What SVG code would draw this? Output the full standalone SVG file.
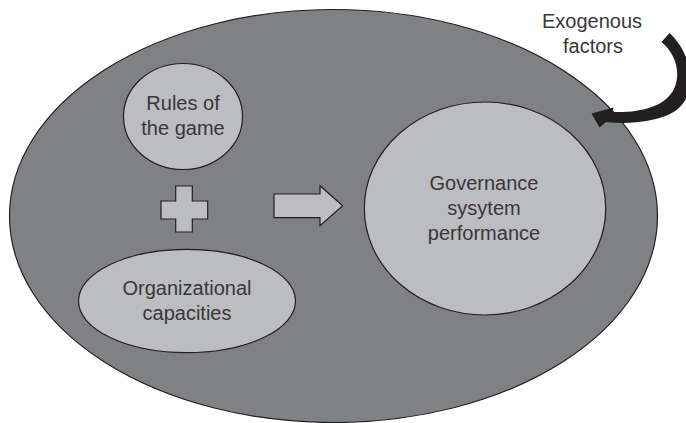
<svg xmlns="http://www.w3.org/2000/svg" width="686" height="423" viewBox="0 0 686 423">
<style>
  .outer { fill: #808184; stroke: #231f20; stroke-width: 1.2; }
  .node { fill: #bcbdc0; stroke: #231f20; stroke-width: 1.2; }
  .lbl { font-family: "Liberation Sans", Arial, sans-serif; font-size: 20px; fill: #3a3738; text-anchor: middle; }
</style>
<rect x="0" y="0" width="686" height="423" fill="#ffffff"/>
<g id="context">
  <ellipse class="outer" cx="333.5" cy="216" rx="324" ry="206.5"/>
</g>
<g id="rules">
  <ellipse class="node" cx="183" cy="116.5" rx="59.5" ry="53"/>
  <text class="lbl" x="183" y="109.5">Rules of</text>
  <text class="lbl" x="183" y="135">the game</text>
</g>
<g id="organizational">
  <ellipse class="node" cx="187" cy="301" rx="108.5" ry="51.7"/>
  <text class="lbl" x="187" y="295">Organizational</text>
  <text class="lbl" x="187" y="320">capacities</text>
</g>
<g id="governance">
  <ellipse class="node" cx="485" cy="208.5" rx="120.7" ry="106.5"/>
  <text class="lbl" x="484" y="190">Governance</text>
  <text class="lbl" x="484" y="215">sysytem</text>
  <text class="lbl" x="484" y="240">performance</text>
</g>
<g id="exogenous">
  <text class="lbl" x="592" y="28">Exogenous</text>
  <text class="lbl" x="593" y="53">factors</text>
</g>
<g id="connectors">
  <path class="node" d="M175.7 186 H192.3 V201 H207.7 V219 H192.3 V232 H175.7 V219 H161 V201 H175.7 Z"/>
  <path class="node" d="M274 194 H320 V185.7 L342.7 205.7 L320 225.7 V217.7 H274 Z"/>
  <path fill="#231f20" d="M661.5 42 L669.5 33 C694 55 700 100 670 114 C655 121 630 125 606 122 L599.5 127.5 L591.5 113.5 L613.5 107.5 L612.5 112 C640 113 665 107 674 89 C682 71 674 52 661.5 42 Z"/>
</g>
</svg>
